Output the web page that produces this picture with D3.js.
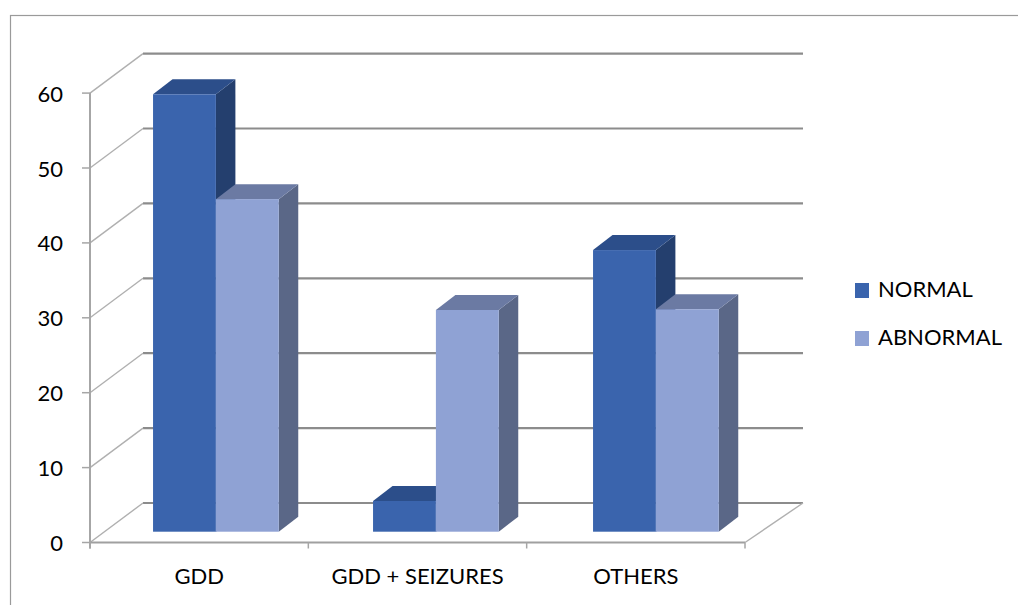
<!DOCTYPE html>
<html>
<head>
<meta charset="utf-8">
<script src="https://cdn.jsdelivr.net/npm/d3@7/dist/d3.min.js"></script>
<style>
  html, body { margin: 0; padding: 0; background: #fff; }
  svg { display: block; }
  text { font-family: Lato, "Open Sans", sans-serif; fill: #000; }
</style>
</head>
<body>
<svg id="chart" width="1018" height="605"></svg>
<script>
// Data
const categories = ["GDD", "GDD + SEIZURES", "OTHERS"];
const seriesNames = ["NORMAL", "ABNORMAL"];
const normalValues = [58.4, 4.1, 37.6];
const abnormalValues = [44.4, 29.6, 29.7];
const yTicks = [0, 10, 20, 30, 40, 50, 60];

const seriesValues = [normalValues, abnormalValues];
const faceColors = {
  NORMAL:   { front: "#3a64ad", top: "#2c4e8a", side: "#243f6e" },
  ABNORMAL: { front: "#8fa2d4", top: "#6b7aa3", side: "#5a6787" }
};

const svg = d3.select("#chart");

// Layout of the 3D box: front plane, back wall offset, bar depth
const front = { x0: 90, x1: 745, yZero: 542.5 };
const wallDX0 = 53, wallDX1 = 58, wallDY = 39.5;
const barPlane = { x0: 105.9, x1: 765.9, yZero: 531.7 };
const barDX = 19.5, barDY = 15;

const y = d3.scaleLinear().domain([0, 60]).range([front.yZero, front.yZero - 449.4]);
const yBar = d3.scaleLinear().domain([0, 60]).range([barPlane.yZero, barPlane.yZero - 449.4]);

const xCat = d3.scaleBand().domain(categories).range([front.x0, front.x1]);
const xBarCat = d3.scaleBand().domain(categories).range([barPlane.x0, barPlane.x1]);
const barW = xBarCat.bandwidth() / 3.5;
const xSeries = d3.scaleBand().domain(seriesNames).range([0.75 * barW, 2.75 * barW]);

// Outer chart-area frame
svg.append("rect")
  .attr("x", 10.5).attr("y", 15.5)
  .attr("width", 1100).attr("height", 700)
  .attr("fill", "none").attr("stroke", "#9a9a9a").attr("stroke-width", 1.2);

const grid = svg.append("g");

// Back-wall gridlines
grid.selectAll("line.back")
  .data(yTicks)
  .join("line")
  .attr("class", "back")
  .attr("x1", front.x0 + wallDX0).attr("x2", front.x1 + wallDX1)
  .attr("y1", d => y(d) - wallDY).attr("y2", d => y(d) - wallDY)
  .attr("stroke", "#8c8c8c").attr("stroke-width", 2.2);

// Side-wall diagonals
grid.selectAll("line.side")
  .data(yTicks)
  .join("line")
  .attr("class", "side")
  .attr("x1", front.x0).attr("y1", d => y(d))
  .attr("x2", front.x0 + wallDX0).attr("y2", d => y(d) - wallDY)
  .attr("stroke", "#b0b0b0").attr("stroke-width", 1.4);

// Floor: front edge and right edge
grid.append("line")
  .attr("x1", front.x0).attr("x2", front.x1)
  .attr("y1", y(0)).attr("y2", y(0))
  .attr("stroke", "#a0a0a0").attr("stroke-width", 2);
grid.append("line")
  .attr("x1", front.x1).attr("y1", y(0))
  .attr("x2", front.x1 + wallDX1).attr("y2", y(0) - wallDY)
  .attr("stroke", "#b0b0b0").attr("stroke-width", 1.4);

// Value axis line and ticks
grid.append("line")
  .attr("x1", front.x0).attr("x2", front.x0)
  .attr("y1", y(60)).attr("y2", y(0) + 6)
  .attr("stroke", "#a6a6a6").attr("stroke-width", 2);
grid.selectAll("line.ytick")
  .data(yTicks)
  .join("line")
  .attr("class", "ytick")
  .attr("x1", front.x0 - 8).attr("x2", front.x0)
  .attr("y1", d => y(d)).attr("y2", d => y(d))
  .attr("stroke", "#a6a6a6").attr("stroke-width", 1.5);

// Category axis ticks at band boundaries
const catBounds = categories.map(c => xCat(c)).concat([front.x1]);
grid.selectAll("line.xtick")
  .data(catBounds)
  .join("line")
  .attr("class", "xtick")
  .attr("x1", d => d).attr("x2", d => d)
  .attr("y1", y(0)).attr("y2", y(0) + 6)
  .attr("stroke", "#a6a6a6").attr("stroke-width", 1.5);

// Bars: painted left to right, each as side, top, front faces
const bars = [];
categories.forEach((c, i) => {
  seriesNames.forEach((s, j) => {
    bars.push({ cat: c, series: s, value: seriesValues[j][i] });
  });
});

const barG = svg.append("g");
bars.forEach(b => {
  const xl = xBarCat(b.cat) + xSeries(b.series);
  const xr = xl + xSeries.bandwidth();
  const yt = yBar(b.value);
  const yb = yBar(0);
  const col = faceColors[b.series];
  const g = barG.append("g");
  g.append("path")
    .attr("d", `M${xr},${yt}L${xr + barDX},${yt - barDY}L${xr + barDX},${yb - barDY}L${xr},${yb}Z`)
    .attr("fill", col.side);
  g.append("path")
    .attr("d", `M${xl},${yt}L${xl + barDX},${yt - barDY}L${xr + barDX},${yt - barDY}L${xr},${yt}Z`)
    .attr("fill", col.top);
  g.append("rect")
    .attr("x", xl).attr("y", yt)
    .attr("width", xr - xl).attr("height", yb - yt)
    .attr("fill", col.front);
});

// Value axis labels
svg.append("g").selectAll("text")
  .data(yTicks)
  .join("text")
  .attr("x", 63).attr("y", d => y(d))
  .attr("text-anchor", "end")
  .attr("dominant-baseline", "central")
  .attr("font-size", 22)
  .text(d => d);

// Category labels
svg.append("g").selectAll("text")
  .data(categories)
  .join("text")
  .attr("x", d => xCat(d) + xCat.bandwidth() / 2)
  .attr("y", 584)
  .attr("text-anchor", "middle")
  .attr("font-size", 22)
  .text(d => d);

// Legend
const legend = svg.append("g");
seriesNames.forEach((s, i) => {
  legend.append("rect")
    .attr("x", 855).attr("y", 283 + i * 48)
    .attr("width", 14).attr("height", 15)
    .attr("fill", faceColors[s].front);
  legend.append("text")
    .attr("x", 878).attr("y", 297 + i * 48)
    .attr("font-size", 22)
    .text(s);
});
</script>
</body>
</html>
